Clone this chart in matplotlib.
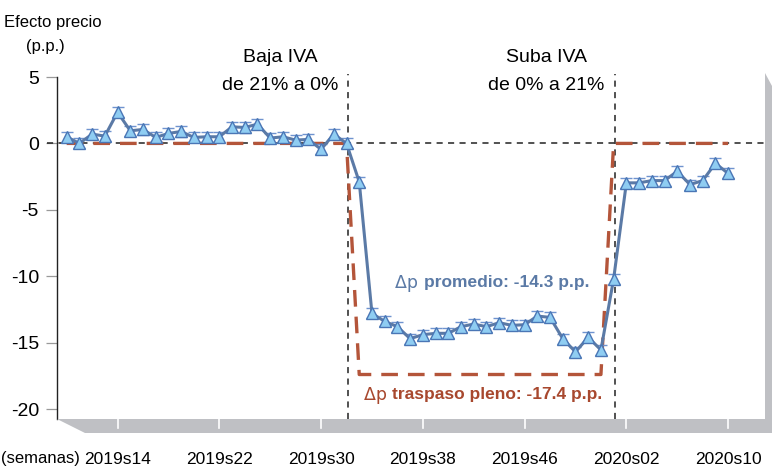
import matplotlib
matplotlib.use("Agg")
import matplotlib.pyplot as plt
from matplotlib.patches import Polygon
import numpy as np

plt.rcParams['font.family'] = ['Liberation Sans', 'DejaVu Sans']

weeks = [f"2019s{w:02d}" for w in range(10, 53)] + [f"2020s{w:02d}" for w in range(1, 11)]

promedio = [0.5, 0.0, 0.7, 0.55, 2.35, 0.95, 1.05, 0.45, 0.75, 0.9, 0.45, 0.5,
            0.5, 1.25, 1.2, 1.45, 0.4, 0.5, 0.25, 0.3, -0.45, 0.7, 0.0, -2.9,
            -12.8, -13.4, -13.8, -14.7, -14.4, -14.3, -14.3, -13.8, -13.6, -13.8,
            -13.5, -13.7, -13.65, -13.0, -13.1, -14.7, -15.7, -14.6, -15.55,
            -10.2, -2.97, -2.97, -2.8, -2.8, -2.1, -3.1, -2.8, -1.5, -2.26]
error = [0.38] * len(promedio)
traspaso = [0.0] * 23 + [-17.4] * 20 + [0.0] * 10

tick_labels = ["2019s14", "2019s22", "2019s30", "2019s38", "2019s46", "2020s02", "2020s10"]
yticks = [5, 0, -5, -10, -15, -20]
event_weeks = ["2019s32", "2020s01"]

W, H = 772, 468
fig = plt.figure(figsize=(W / 100, H / 100), dpi=100)

def fx(px):
    return px / W

def fy(py):
    return 1 - py / H

ax_left, ax_right, ax_top, ax_bot = 57, 764, 77, 419
ax = fig.add_axes([fx(ax_left), fy(ax_bot), fx(ax_right - ax_left), (ax_bot - ax_top) / H])

x = np.arange(len(weeks))
pos = {w: i for i, w in enumerate(weeks)}

# 3D-like floor and right wall
floor = Polygon([(fx(57), fy(419)), (fx(772), fy(419)), (fx(772), fy(433)), (fx(85), fy(433))],
                closed=True, transform=fig.transFigure, facecolor='#bfc0c4', edgecolor='none', zorder=0)
fig.patches.append(floor)
wall = Polygon([(fx(765), fy(73)), (fx(772), fy(86)), (fx(772), fy(419)), (fx(765), fy(419))],
               closed=True, transform=fig.transFigure, facecolor='#bfc0c4', edgecolor='none', zorder=0)
fig.patches.append(wall)

# zero line
ax.plot([-0.014, 1], [0, 0], transform=ax.get_yaxis_transform(), color='#222222',
        lw=1.1, ls=(0, (4, 3.5)), clip_on=False, zorder=2)

# event vertical lines
for w in event_weeks:
    ax.plot([pos[w] + 0.1] * 2, [-20.75, 5.25], color='#222222', lw=1.1,
            ls=(0, (4, 3.5)), clip_on=False, zorder=2)

# traspaso pleno
ax.plot(x, traspaso, color='#b4553a', lw=2.4, ls=(0, (5, 3)), zorder=3)

# promedio with error bars
ax.errorbar(x, promedio, yerr=error, color='#5b7aa6', lw=2.2, ecolor='#6f93cf',
            elinewidth=1.0, capsize=4.5, capthick=1.0, marker='^', ms=9,
            markerfacecolor='#8fcdf2', markeredgecolor='#4a76b5', markeredgewidth=1.0, zorder=4)

ax.set_xlim(-0.76, 54.82)
ax.set_ylim(-20.75, 5)

for s in ['top', 'right', 'bottom']:
    ax.spines[s].set_visible(False)
ax.spines['left'].set_color('#222222')
ax.spines['left'].set_linewidth(1.0)
ax.spines['left'].set_bounds(-20.75, 5)

ax.set_yticks(yticks)
ax.set_yticklabels([str(v) for v in yticks], fontsize=14)
ax.tick_params(axis='y', length=8, width=0.9, color='#999999', pad=5)

ax.set_xticks([pos[t] for t in tick_labels])
ax.set_xticklabels(tick_labels, fontsize=12.5)
ax.tick_params(axis='x', length=0, pad=24)

# white tick marks on the floor
for t in tick_labels:
    xf = ax.transData.transform((pos[t], 0))[0] / W
    fig.add_artist(plt.Line2D([xf, xf], [fy(419), fy(428)], transform=fig.transFigure,
                              color='white', lw=1.2, zorder=1))

fig.text(fx(1), fy(459), "(semanas)", fontsize=12, ha='left', va='center')
fig.text(fx(4), fy(22), "Efecto precio", fontsize=12, ha='left', va='center')
fig.text(fx(45), fy(47), "(p.p.)", fontsize=12, ha='center', va='center')

fig.text(fx(280), fy(57), "Baja IVA", fontsize=14, ha='center', va='center')
fig.text(fx(280), fy(86), "de 21% a 0%", fontsize=14, ha='center', va='center')
fig.text(fx(546), fy(57), "Suba IVA", fontsize=14, ha='center', va='center')
fig.text(fx(546), fy(86), "de 0% a 21%", fontsize=14, ha='center', va='center')

# annotations
blue = '#5b7aa6'
red = '#a8482e'
fig.canvas.draw()
t1 = fig.text(fx(395), fy(283), "Δp ", fontsize=12.5, color=blue, ha='left', va='center',
              family=['DejaVu Sans'])
fig.canvas.draw()
bb = t1.get_window_extent()
fig.text(bb.x1 / W, fy(283), "promedio: -14.3 p.p.", fontsize=12.5, color=blue,
         fontweight='bold', ha='left', va='center')

t2 = fig.text(fx(364), fy(395), "Δp ", fontsize=12.5, color=red, ha='left', va='center',
              family=['DejaVu Sans'])
fig.canvas.draw()
bb2 = t2.get_window_extent()
fig.text(bb2.x1 / W, fy(395), "traspaso pleno: -17.4 p.p.", fontsize=12.5, color=red,
         fontweight='bold', ha='left', va='center')

fig.savefig("out.png", dpi=100)
